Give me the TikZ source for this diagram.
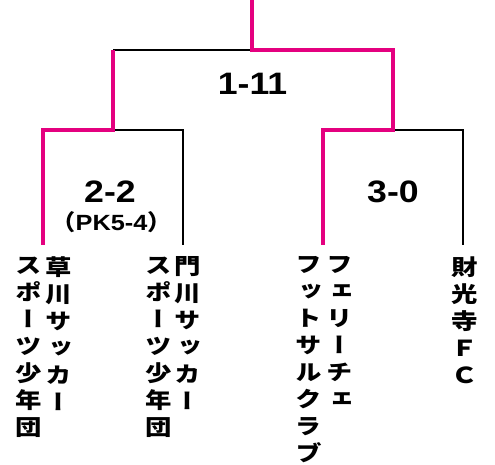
\documentclass[tikz,border=0pt]{standalone}
\usepackage{fontspec}
\newfontfamily\scorefont{Liberation Sans}[FakeStretch=1.15]
\newfontfamily\jpscore{Noto Sans CJK JP}[FakeStretch=1.1]
\newfontfamily\jpvert{Noto Sans CJK JP}[RawFeature=+vert,FakeStretch=1.2]
\definecolor{winpink}{RGB}{228,0,127}
\tikzset{
  loser/.style={draw=black,line width=2pt},
  winner/.style={draw=winpink,line width=4pt},
  score/.style={anchor=base,inner sep=0pt,font=\scorefont\bfseries\fontsize{31}{33}\selectfont},
  pk/.style={anchor=base,inner sep=0pt,font=\scorefont\bfseries\fontsize{22}{24}\selectfont},
  team/.style={anchor=north,inner sep=0pt,align=center,font=\jpvert\bfseries\fontsize{22}{27}\selectfont}
}
\begin{document}
\begin{tikzpicture}[x=1pt,y=-1pt]
\useasboundingbox (0,0) rectangle (495,465);
% junction coordinates
\coordinate (top) at (252,0);
\coordinate (f) at (252,50);
\coordinate (fl) at (113,50);
\coordinate (fr) at (393,50);
\coordinate (sl) at (113,130);
\coordinate (sll) at (43,130);
\coordinate (slr) at (183,130);
\coordinate (sr) at (393,130);
\coordinate (srl) at (323,130);
\coordinate (srr) at (463,130);
\coordinate (t1) at (43,245);
\coordinate (t2) at (183,245);
\coordinate (t3) at (323,245);
\coordinate (t4) at (463,245);
% losers
\draw[loser] (fl) -- (f);
\draw[loser] (sl) -- (slr) -- (t2);
\draw[loser] (sr) -- (srr) -- (t4);
% winners
\draw[winner] (top) -- (f) -- (fr) -- (sr) -- (srl) -- (t3);
\draw[winner] (fl) -- (sl) -- (sll) -- (t1);
% scores
\node[score] (s1) at (252.5,95) {1-11};
\node[score] (s2) at (110,203) {2-2};
\node[pk] (s2pk) at (111.5,230) {{\jpscore\bfseries （}PK5-4{\jpscore\bfseries ）}};
\node[score] (s3) at (393,203) {3-0};
% teams
\node[team] (a1) at (59,256.5) {草\\川\\サ\\ッ\\カ\\ー};
\node[team] (a2) at (29,256.5) {ス\\ポ\\ー\\ツ\\少\\年\\団};
\node[team] (b1) at (188,256.5) {門\\川\\サ\\ッ\\カ\\ー};
\node[team] (b2) at (159,256.5) {ス\\ポ\\ー\\ツ\\少\\年\\団};
\node[team] (c1) at (340,256.5) {フ\\ェ\\リ\\ー\\チ\\ェ};
\node[team] (c2) at (309,256.5) {フ\\ッ\\ト\\サ\\ル\\ク\\ラ\\ブ};
\node[team] (d1) at (465,256.5) {財\\光\\寺\\Ｆ\\Ｃ};
\end{tikzpicture}
\end{document}
